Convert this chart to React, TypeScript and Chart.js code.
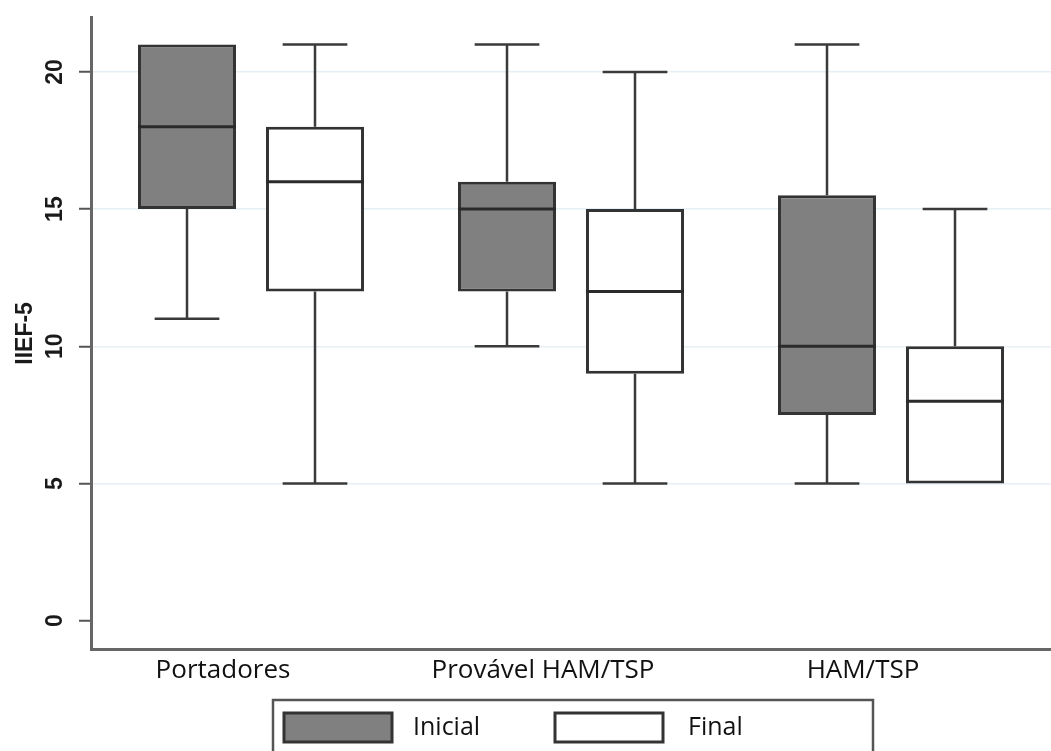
import React, { useEffect, useRef } from "react";
import { Chart, registerables } from "chart.js";

Chart.register(...registerables);

// ---- data ----
const categories = ["Portadores", "Provável HAM/TSP", "HAM/TSP"];
const seriesNames = ["Inicial", "Final"];

const inicialMin = [11, 10, 5];
const inicialQ1 = [15, 12, 7.5];
const inicialMedian = [18, 15, 10];
const inicialQ3 = [21, 16, 15.5];
const inicialMax = [21, 21, 21];

const finalMin = [5, 5, 5];
const finalQ1 = [12, 9, 5];
const finalMedian = [16, 12, 8];
const finalQ3 = [18, 15, 10];
const finalMax = [21, 20, 15];

const yTicks = [0, 5, 10, 15, 20];
const yAxisTitle = "IIEF-5";

// ---- styles ----
const fills = ["#808080", "#ffffff"];
const strokeColor = "#333333";

const boxplotPlugin = {
  id: "boxplotWhiskers",
  afterDatasetsDraw(chart: any) {
    const ctx = chart.ctx;
    const yScale = chart.scales.y;
    chart.data.datasets.forEach((ds: any, di: number) => {
      const meta = chart.getDatasetMeta(di);
      meta.data.forEach((bar: any, i: number) => {
        const { x, width } = bar.getProps(["x", "width"], true);
        const yMinP = yScale.getPixelForValue(ds.stats.min[i]);
        const yQ1 = yScale.getPixelForValue(ds.stats.q1[i]);
        const yMed = yScale.getPixelForValue(ds.stats.median[i]);
        const yQ3 = yScale.getPixelForValue(ds.stats.q3[i]);
        const yMaxP = yScale.getPixelForValue(ds.stats.max[i]);
        const cap = width * 0.33;
        ctx.save();
        ctx.strokeStyle = "#3a3a3a";
        ctx.lineWidth = 2.5;
        ctx.lineCap = "butt";
        ctx.beginPath();
        if (yMaxP < yQ3 - 0.5) {
          ctx.moveTo(x, yQ3);
          ctx.lineTo(x, yMaxP);
          ctx.moveTo(x - cap, yMaxP);
          ctx.lineTo(x + cap, yMaxP);
        }
        if (yMinP > yQ1 + 0.5) {
          ctx.moveTo(x, yQ1);
          ctx.lineTo(x, yMinP);
          ctx.moveTo(x - cap, yMinP);
          ctx.lineTo(x + cap, yMinP);
        }
        ctx.stroke();
        ctx.strokeStyle = "#2a2a2a";
        ctx.lineWidth = 3;
        ctx.beginPath();
        ctx.moveTo(x - width / 2, yMed);
        ctx.lineTo(x + width / 2, yMed);
        ctx.stroke();
        ctx.restore();
      });
    });
  },
};

const boxLegendPlugin = {
  id: "boxLegend",
  afterDraw(chart: any) {
    const ctx = chart.ctx;
    const L = { left: 273, top: 700, right: 873, bottom: 756 };
    const items = [
      { sx: 284, tx: 413 },
      { sx: 555, tx: 688 },
    ];
    const sw = 108;
    const sh = 29;
    const sy = 713;
    ctx.save();
    ctx.strokeStyle = "#555555";
    ctx.lineWidth = 2.5;
    ctx.strokeRect(L.left, L.top, L.right - L.left, L.bottom - L.top);
    chart.data.datasets.forEach((ds: any, i: number) => {
      const it = items[i];
      ctx.fillStyle = ds.backgroundColor;
      ctx.fillRect(it.sx, sy, sw, sh);
      ctx.strokeStyle = "#333333";
      ctx.lineWidth = 3;
      ctx.strokeRect(it.sx, sy, sw, sh);
      ctx.fillStyle = "#111111";
      ctx.font = "25px 'Open Sans'";
      ctx.textBaseline = "middle";
      ctx.textAlign = "left";
      ctx.fillText(ds.label, it.tx, sy + sh / 2);
    });
    ctx.restore();
  },
};

export default function App() {
  const canvasRef = useRef<HTMLCanvasElement | null>(null);

  useEffect(() => {
    if (!canvasRef.current) return;
    const stats = [
      { min: inicialMin, q1: inicialQ1, median: inicialMedian, q3: inicialQ3, max: inicialMax },
      { min: finalMin, q1: finalQ1, median: finalMedian, q3: finalQ3, max: finalMax },
    ];
    const chart = new Chart(canvasRef.current, {
      type: "bar",
      data: {
        labels: categories,
        datasets: seriesNames.map((name, si) => ({
          label: name,
          data: categories.map((_, i) => [stats[si].q1[i], stats[si].q3[i]]),
          backgroundColor: fills[si],
          borderColor: strokeColor,
          borderWidth: 3,
          borderSkipped: false,
          categoryPercentage: 0.8,
          barPercentage: 0.766,
          stats: stats[si],
        })) as any,
      },
      options: {
        responsive: false,
        animation: false,
        devicePixelRatio: 1,
        layout: { padding: { left: 0, right: 0, top: 17, bottom: 60 } },
        plugins: {
          legend: { display: false },
          tooltip: { enabled: false },
        },
        scales: {
          x: {
            type: "category",
            grid: { display: false, drawTicks: false },
            border: { display: true, color: "#666666", width: 3 },
            ticks: {
              color: "#111111",
              font: { family: "'Open Sans'", size: 26 },
              padding: 5,
              labelOffset: -28,
              maxRotation: 0,
              minRotation: 0,
            },
          },
          y: {
            min: -1.06,
            max: 22.0,
            afterBuildTicks: (scale: any) => {
              scale.ticks = yTicks.map((v) => ({ value: v }));
            },
            afterFit: (scale: any) => {
              scale.width = 91;
              scale.paddingTop = 0;
            },
            border: { display: true, color: "#666666", width: 3 },
            grid: {
              color: (c: any) => (c.tick && c.tick.value === 0 ? "rgba(0,0,0,0)" : "#e6eff3"),
              lineWidth: 1.5,
              drawTicks: true,
              tickLength: 12,
              tickColor: "#555555",
              tickWidth: 2,
            },
            ticks: {
              color: "#1a1a1a",
              font: { family: "'Liberation Sans', Arial, sans-serif", size: 23, weight: "bold" },
              padding: 11,
              minRotation: 90,
              maxRotation: 90,
              crossAlign: "center",
            },
            title: {
              display: true,
              text: yAxisTitle,
              color: "#1a1a1a",
              font: { family: "'Liberation Sans', Arial, sans-serif", size: 23, weight: "bold" },
              padding: { top: 12, bottom: 5 },
            },
          },
        },
      },
      plugins: [boxplotPlugin, boxLegendPlugin],
    });
    return () => chart.destroy();
  }, []);

  return (
    <div
      style={{
        position: "fixed",
        left: 0,
        top: 0,
        width: 1051,
        height: 751,
        overflow: "hidden",
        background: "#ffffff",
      }}
    >
      <canvas ref={canvasRef} width={1051} height={751} style={{ display: "block" }} />
    </div>
  );
}
